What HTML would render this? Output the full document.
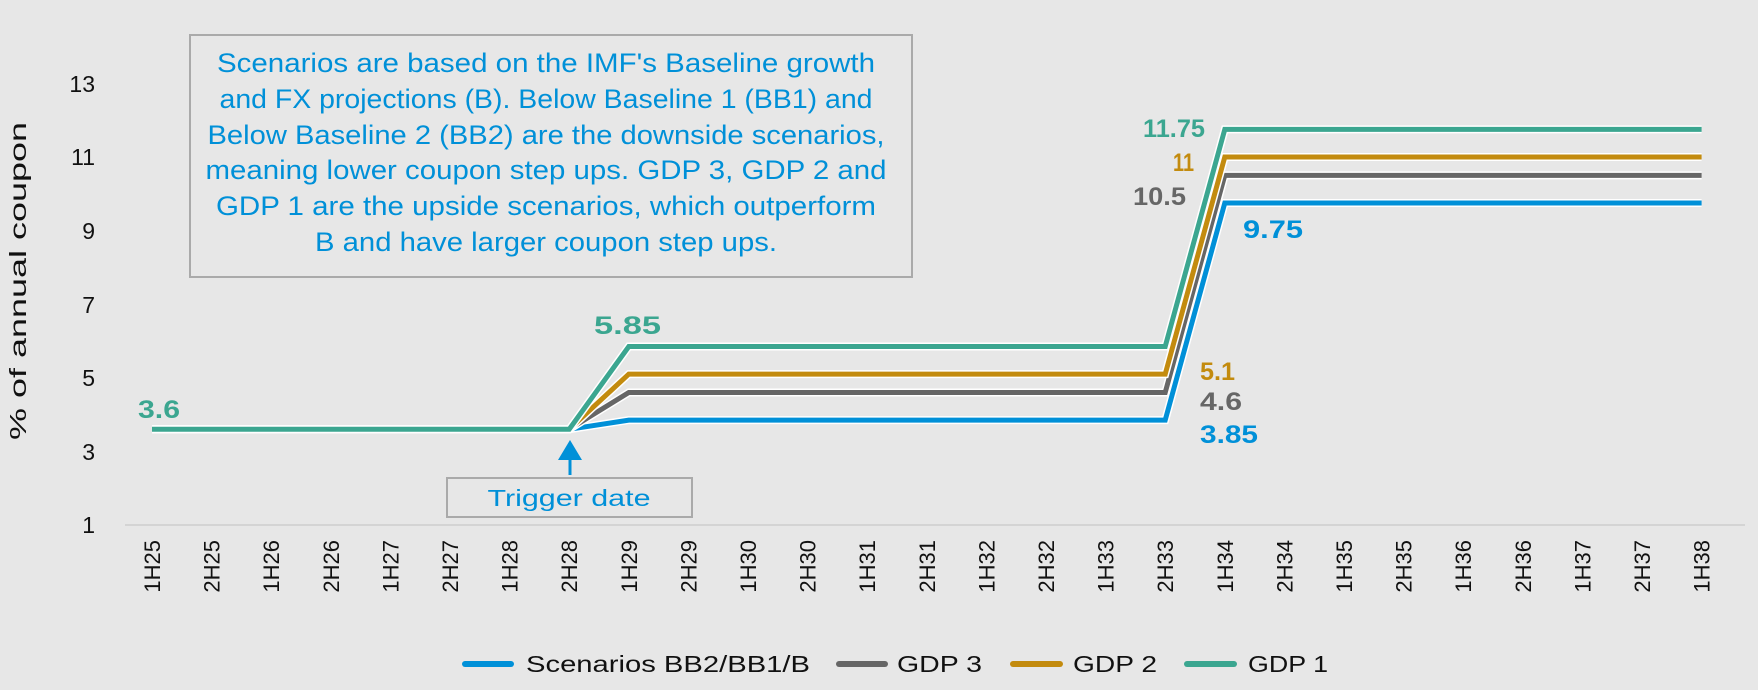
<!DOCTYPE html><html><head><style>
body{margin:0;background:#e7e7e7;}
svg{display:block;font-family:"Liberation Sans",sans-serif;}
</style></head><body>
<svg width="1758" height="690" viewBox="0 0 1758 690">
<rect width="1758" height="690" fill="#e7e7e7"/>
<line x1="125" y1="525" x2="1745" y2="525" stroke="#d4d4d4" stroke-width="2"/>
<g font-size="23" fill="#111" text-anchor="end">
<text x="95" y="92">13</text><text x="95" y="165">11</text><text x="95" y="239">9</text><text x="95" y="313">7</text><text x="95" y="386">5</text><text x="95" y="460">3</text><text x="95" y="533">1</text>
</g>
<text transform="translate(26,281) rotate(-90)" font-size="23" fill="#111" text-anchor="middle" textLength="318" lengthAdjust="spacingAndGlyphs">% of annual coupon</text>
<g id="xl" font-size="22" fill="#111" text-anchor="end"></g>
<g fill="none" stroke-linejoin="miter">
<polyline id="p0" stroke="#fff" stroke-width="8"/>
<polyline id="c0" stroke="#0090d8" stroke-width="5"/>
<polyline id="p1" stroke="#fff" stroke-width="8"/>
<polyline id="c1" stroke="#666" stroke-width="5"/>
<polyline id="p2" stroke="#fff" stroke-width="8"/>
<polyline id="c2" stroke="#c38b0e" stroke-width="5"/>
<polyline id="p3" stroke="#fff" stroke-width="8"/>
<polyline id="c3" stroke="#3ba690" stroke-width="5"/>
</g>
<rect x="190" y="35" width="722" height="242" fill="#e7e7e7" stroke="#aaa" stroke-width="2"/>
<g font-size="27" fill="#0090d8" text-anchor="middle">
<text x="546" y="72" textLength="658" lengthAdjust="spacingAndGlyphs">Scenarios are based on the IMF's Baseline growth</text>
<text x="546" y="108" textLength="653" lengthAdjust="spacingAndGlyphs">and FX projections (B). Below Baseline 1 (BB1) and</text>
<text x="546" y="144" textLength="677" lengthAdjust="spacingAndGlyphs">Below Baseline 2 (BB2) are the downside scenarios,</text>
<text x="546" y="179" textLength="681" lengthAdjust="spacingAndGlyphs">meaning lower coupon step ups. GDP 3, GDP 2 and</text>
<text x="546" y="215" textLength="660" lengthAdjust="spacingAndGlyphs">GDP 1 are the upside scenarios, which outperform</text>
<text x="546" y="251" textLength="462" lengthAdjust="spacingAndGlyphs">B and have larger coupon step ups.</text>
</g>
<rect x="447" y="478" width="245" height="39" fill="#e7e7e7" stroke="#aaa" stroke-width="2"/>
<text x="569" y="506" font-size="23" fill="#0090d8" text-anchor="middle" textLength="163" lengthAdjust="spacingAndGlyphs">Trigger date</text>
<line x1="570" y1="475" x2="570" y2="455" stroke="#0090d8" stroke-width="3"/>
<polygon points="570,440 558,460 582,460" fill="#0090d8"/>
<g font-size="25" font-weight="bold">
<text x="138" y="418" fill="#3ba690" textLength="42" lengthAdjust="spacingAndGlyphs">3.6</text>
<text x="594" y="334" fill="#3ba690" textLength="67" lengthAdjust="spacingAndGlyphs">5.85</text>
<text x="1143" y="137" fill="#3ba690" textLength="62" lengthAdjust="spacingAndGlyphs">11.75</text>
<text x="1173" y="171" fill="#c38b0e" textLength="21" lengthAdjust="spacingAndGlyphs">11</text>
<text x="1133" y="205" fill="#666" textLength="53" lengthAdjust="spacingAndGlyphs">10.5</text>
<text x="1243" y="238" fill="#0090d8" textLength="60" lengthAdjust="spacingAndGlyphs">9.75</text>
<text x="1200" y="380" fill="#c38b0e" textLength="35" lengthAdjust="spacingAndGlyphs">5.1</text>
<text x="1200" y="410" fill="#666" textLength="42" lengthAdjust="spacingAndGlyphs">4.6</text>
<text x="1200" y="443" fill="#0090d8" textLength="58" lengthAdjust="spacingAndGlyphs">3.85</text>
</g>
<g font-size="23" fill="#111" stroke-linecap="round">
<line x1="465" y1="664" x2="511" y2="664" stroke="#0090d8" stroke-width="6"/><text x="526" y="672" textLength="284" lengthAdjust="spacingAndGlyphs">Scenarios BB2/BB1/B</text>
<line x1="839" y1="664" x2="885" y2="664" stroke="#666" stroke-width="6"/><text x="897" y="672" textLength="85" lengthAdjust="spacingAndGlyphs">GDP 3</text>
<line x1="1013" y1="664" x2="1060" y2="664" stroke="#c38b0e" stroke-width="6"/><text x="1073" y="672" textLength="84" lengthAdjust="spacingAndGlyphs">GDP 2</text>
<line x1="1187" y1="664" x2="1234" y2="664" stroke="#3ba690" stroke-width="6"/><text x="1248" y="672" textLength="80" lengthAdjust="spacingAndGlyphs">GDP 1</text>
</g>
</svg>
<script>
const X=i=>152+i*59.6, Y=v=>525-(v-1)*36.8;
const vals=[[3.85,9.75],[4.6,10.5],[5.1,11],[5.85,11.75]];
vals.forEach((v,k)=>{
 const pts=[[0,3.6],[7,3.6],[8,v[0]],[17,v[0]],[18,v[1]],[26,v[1]]].map(p=>X(p[0]).toFixed(1)+","+Y(p[1]).toFixed(1)).join(" ");
 document.getElementById("p"+k).setAttribute("points",pts);
 document.getElementById("c"+k).setAttribute("points",pts);
});
const g=document.getElementById("xl");let s="";
for(let i=0;i<27;i++){const yr=25+Math.floor(i/2);const l=(i%2?"2H":"1H")+yr;
s+=`<text transform="translate(${X(i)+8},540) rotate(-90)">${l}</text>`;}
g.innerHTML=s;
</script>
</body></html>
